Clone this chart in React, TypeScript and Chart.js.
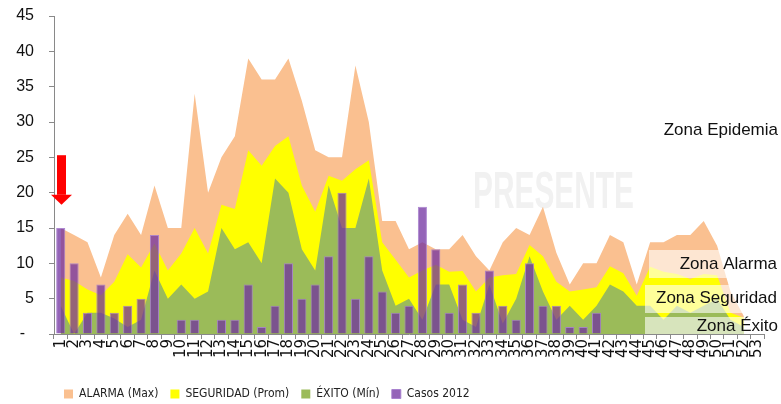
import { useEffect, useRef } from 'react';
import { Chart, registerables } from 'chart.js';

Chart.register(...registerables);

const WEEKS = [
  '1', '2', '3', '4', '5', '6', '7', '8', '9', '10',
  '11', '12', '13', '14', '15', '16', '17', '18', '19', '20',
  '21', '22', '23', '24', '25', '26', '27', '28', '29', '30',
  '31', '32', '33', '34', '35', '36', '37', '38', '39', '40',
  '41', '42', '43', '44', '45', '46', '47', '48', '49', '50',
  '51', '52', '53',
];

const ALARMA = [
  15, 14, 13, 8, 14, 17, 14, 21, 15, 15,
  34, 20, 25, 28, 39, 36, 36, 39, 33, 26,
  25, 25, 38, 30, 16, 16, 12, 13, 12, 12,
  14, 11, 9, 13, 15, 14, 18, 11.5, 7, 10,
  10, 14, 13, 7, 13, 13, 14, 14, 16, 12.5,
  6, 2.5, null,
];

const SEGURIDAD = [
  8, 7.5, 6.3, 5.5, 7.4, 11.3, 9.4, 12.8, 9, 11.4,
  15, 11.4, 18.3, 17.7, 26, 23.8, 26.6, 28, 21, 17.3,
  22.4, 21.7, 23.3, 24.6, 13, 10.5, 8, 9, 9.8, 8.8,
  8.9, 6, 8, 8.3, 8.5, 12.6, 11, 7.4, 6, 6.3,
  6.6, 9.6, 8.6, 5.4, 9.5, 8.8, 8.5, 7.8, 8.5, 8.3,
  3, 2.3, null,
];

const EXITO = [
  4, 0, 3, 3, 2.2, 1, 2, 9, 5, 7,
  5, 6, 15, 12, 13, 10, 22, 20, 12, 9,
  21, 15, 15, 22, 9, 4, 5, 2, 7, 7,
  2, 1, 7, 1.5, 5, 11, 6, 2, 4, 2,
  4, 7, 6, 4, 4, 2, 4, 3, 4, 5,
  2, 1, null,
];

const CASOS_2012 = [
  15, 10, 3, 7, 3, 4, 5, 14, 0, 2,
  2, 0, 2, 2, 7, 1, 4, 10, 5, 7,
  11, 20, 5, 11, 6, 3, 4, 18, 12, 3,
  7, 3, 9, 4, 2, 10, 4, 4, 1, 1,
  3, null, null, null, null, null, null, null, null, null,
  null, null, null,
];

const SERIES_NAMES = ['ALARMA (Max)', 'SEGURIDAD (Prom)', 'ÉXITO (Mín)', 'Casos 2012'];
const ZONE_LABELS = ['Zona Epidemia', 'Zona Alarma', 'Zona Seguridad', 'Zona Éxito'];
const WATERMARK = 'PRESENTE';
const Y_MAX = 45;
const Y_STEP = 5;

const ORANGE = '#FAC090';
const YELLOW = '#FFFF00';
const GREEN = '#9BBB59';
const PURPLE = 'rgba(112, 48, 160, 0.75)';
const PURPLE_EDGE = 'rgba(165, 125, 205, 0.9)';
const AXIS = '#898989';
const CONDENSED = '"DejaVu Sans Condensed", "Liberation Sans", sans-serif';
const SANS = '"Liberation Sans", Arial, sans-serif';
const TICK_FONT = '"DejaVu Sans", "Liberation Sans", sans-serif';

const LEGEND_PAD = 12;

const decorations = {
  id: 'decorations',
  afterLayout(chart: any) {
    // legend row starts under the plot, as in the reference
    if (chart.legend) chart.legend.left = 64 - LEGEND_PAD;
  },
  beforeDatasetsDraw(chart: any) {
    const { ctx } = chart;
    ctx.save();
    ctx.font = `bold 52px ${SANS}`;
    const w = ctx.measureText(WATERMARK).width;
    ctx.translate(473, 208);
    ctx.scale(161 / w, 1);
    ctx.fillStyle = '#f1f1f1';
    ctx.textBaseline = 'alphabetic';
    ctx.textAlign = 'left';
    ctx.fillText(WATERMARK, 0, 0);
    ctx.restore();
  },
  afterDatasetsDraw(chart: any) {
    const { ctx } = chart;
    const x = chart.scales.x;
    const y = chart.scales.y;
    ctx.save();
    // zone boxes
    ctx.fillStyle = 'rgba(255,255,255,0.6)';
    ctx.fillRect(649, 250, 132, 28);
    ctx.fillRect(645, 285, 136, 28);
    ctx.fillRect(645, 317, 136, y.getPixelForValue(0) - 317);
    // zone labels
    ctx.fillStyle = '#111';
    ctx.font = `17px ${SANS}`;
    ctx.textAlign = 'right';
    ctx.textBaseline = 'middle';
    ctx.fillText(ZONE_LABELS[0], 778, 130);
    ctx.fillText(ZONE_LABELS[1], 777, 264);
    ctx.fillText(ZONE_LABELS[2], 777, 298);
    ctx.fillText(ZONE_LABELS[3], 778, 326);
    // red arrow on week 1
    const cx = x.getPixelForValue(0) + 0.8;
    const top = y.getPixelForValue(25.3);
    const neck = y.getPixelForValue(19.7);
    const tip = y.getPixelForValue(18.3);
    ctx.fillStyle = '#FF0000';
    ctx.fillRect(cx - 4.5, top, 9, neck - top);
    ctx.beginPath();
    ctx.moveTo(cx - 10.5, neck);
    ctx.lineTo(cx + 10.5, neck);
    ctx.lineTo(cx, tip);
    ctx.closePath();
    ctx.fill();
    ctx.restore();
  },
};

export default function App() {
  const ref = useRef<HTMLCanvasElement>(null);

  useEffect(() => {
    const area = (label: string, data: (number | null)[], color: string, order: number) => ({
      type: 'line' as const,
      label,
      data,
      backgroundColor: color,
      borderColor: 'rgba(0,0,0,0)',
      borderWidth: 0,
      pointRadius: 0,
      pointHoverRadius: 0,
      tension: 0,
      fill: 'origin',
      spanGaps: false,
      order,
    });

    const chart = new Chart(ref.current as HTMLCanvasElement, {
      type: 'bar',
      data: {
        labels: WEEKS,
        datasets: [
          area(SERIES_NAMES[0], ALARMA, ORANGE, 3),
          area(SERIES_NAMES[1], SEGURIDAD, YELLOW, 2),
          area(SERIES_NAMES[2], EXITO, GREEN, 1),
          {
            type: 'bar' as const,
            label: SERIES_NAMES[3],
            data: CASOS_2012,
            backgroundColor: PURPLE,
            borderColor: PURPLE_EDGE,
            borderWidth: 1,
            barPercentage: 0.68,
            categoryPercentage: 1,
            order: 0,
          },
        ] as any,
      },
      options: {
        responsive: false,
        animation: false,
        devicePixelRatio: 1,
        events: [],
        layout: { padding: { left: 0, right: 17, top: 16, bottom: -6 } },
        plugins: {
          tooltip: { enabled: false },
          legend: {
            position: 'bottom',
            align: 'start',
            labels: {
              boxWidth: 9,
              boxHeight: 9,
              padding: LEGEND_PAD,
              color: '#222',
              font: { family: CONDENSED, size: 12 },
              sort: (a: any, b: any) => a.datasetIndex - b.datasetIndex,
            },
          },
        },
        scales: {
          x: {
            type: 'category',
            offset: true,
            grid: {
              offset: true,
              drawOnChartArea: false,
              drawTicks: true,
              tickLength: 5,
              color: AXIS,
            },
            border: { display: true, color: AXIS },
            ticks: {
              autoSkip: false,
              minRotation: 90,
              maxRotation: 90,
              padding: 0,
              color: '#111',
              font: { family: TICK_FONT, size: 15 },
            },
            afterFit: (s: any) => {
              s.height = 42;
            },
          },
          y: {
            min: 0,
            max: Y_MAX,
            grid: {
              drawOnChartArea: false,
              drawTicks: true,
              tickLength: 5,
              color: AXIS,
            },
            border: { display: true, color: AXIS },
            ticks: {
              stepSize: Y_STEP,
              padding: 15,
              color: '#111',
              font: { family: SANS, size: 16 },
              callback: (v: any) => (Number(v) === 0 ? '-  ' : String(v)),
            },
            afterFit: (s: any) => {
              s.width = 54;
              s.paddingTop = 0;
              s.paddingBottom = 0;
            },
          },
        },
      },
      plugins: [decorations],
    });
    return () => chart.destroy();
  }, []);

  return (
    <div style={{ position: 'absolute', left: 0, top: 0, width: 781, height: 404 }}>
      <canvas ref={ref} width={781} height={404} />
    </div>
  );
}
